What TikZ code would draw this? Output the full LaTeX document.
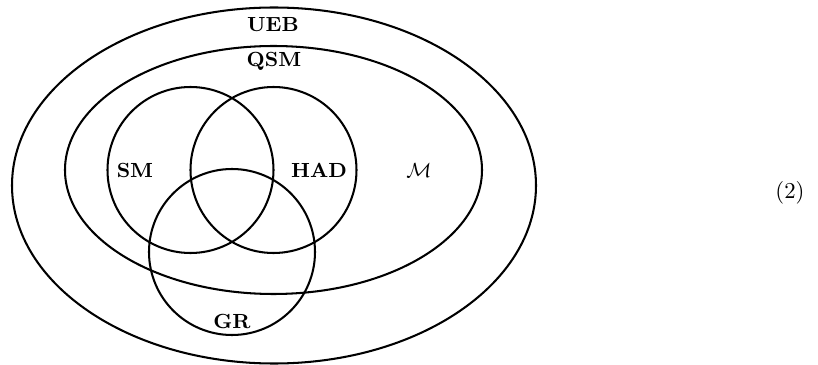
\documentclass[tikz,border=0pt]{standalone}
\begin{document}
\begin{tikzpicture}[x=0.44pt,y=-0.44pt,
  setline/.style={line width=0.9pt},
  lab/.style={font=\small\bfseries, inner sep=0pt}]
\useasboundingbox (0,0) rectangle (818,365);
% sets
\draw[setline] (274,185.5) ellipse [x radius=262, y radius=178];
\draw[setline] (273.5,170) ellipse [x radius=208.5, y radius=124];
\draw[setline] (190.5,170) circle [radius=83];
\draw[setline] (273.5,170) circle [radius=83];
\draw[setline] (232,252) circle [radius=83];
% labels
\node[lab] (ueb) at (273,25) {UEB};
\node[lab] (qsm) at (274,61) {QSM};
\node[lab] (sm) at (135,170) {SM};
\node[lab] (had) at (319,170) {HAD};
\node[inner sep=0pt, font=\small] (m) at (419,171) {$\mathcal{M}$};
\node[lab] (gr) at (232,321) {GR};
\node[inner sep=0pt] (eqn) at (790,193) {(2)};
\end{tikzpicture}
\end{document}
